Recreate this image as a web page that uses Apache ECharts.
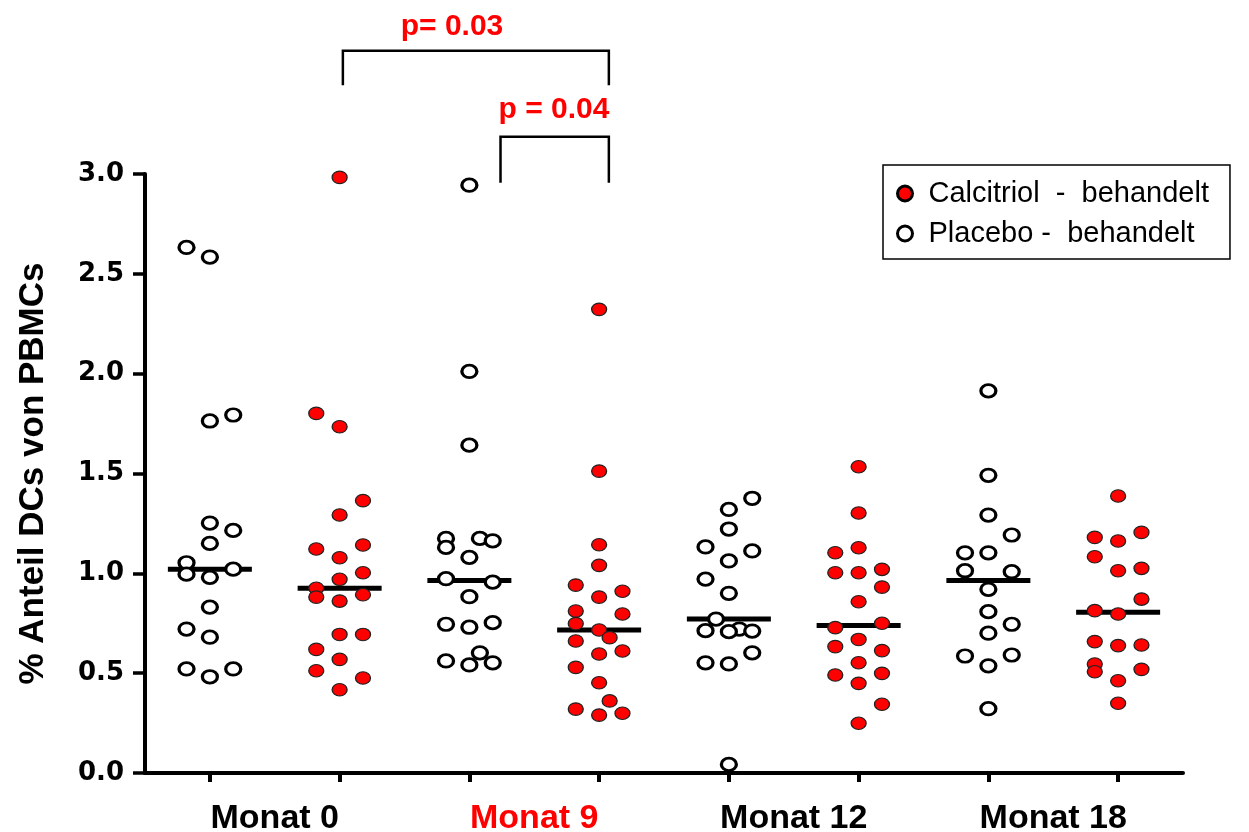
<!DOCTYPE html>
<html>
<head>
<meta charset="utf-8">
<script src="https://cdn.jsdelivr.net/npm/echarts@6/dist/echarts.min.js"></script>
<style>
  html, body { margin: 0; padding: 0; background: #fff; }
  #chart { width: 1249px; height: 832px; }
</style>
</head>
<body>
<div id="chart"></div>
<script>
// Dendritic cells as % of PBMCs, per patient, by month and treatment arm
const categories = ['Placebo M0', 'Calcitriol M0', 'Placebo M9', 'Calcitriol M9',
                    'Placebo M12', 'Calcitriol M12', 'Placebo M18', 'Calcitriol M18'];
const months = ['Monat 0', 'Monat 9', 'Monat 12', 'Monat 18'];
const yTicks = [0, 0.5, 1.0, 1.5, 2.0, 2.5, 3.0];

// values per group, and the dot column each value sits in (-1 left, 0 centre, 1 right)
const placeboM0 = [2.632, 2.584, 1.793, 1.763, 1.252, 1.215, 1.150, 1.053, 1.021, 0.996, 0.980, 0.831, 0.721, 0.680, 0.521, 0.521, 0.482];
const placeboM0Cols = [-1, 0, 1, 0, 0, 1, 0, -1, 1, -1, 0, 0, -1, 0, -1, 1, 0];
const calcitriolM0 = [2.983, 1.801, 1.734, 1.364, 1.292, 1.142, 1.122, 1.078, 1.003, 0.970, 0.925, 0.893, 0.881, 0.861, 0.694, 0.694, 0.619, 0.569, 0.512, 0.476, 0.417];
const calcitriolM0Cols = [0, -1, 0, 1, 0, 1, -1, 0, 1, 0, -1, 1, -1, 0, 0, 1, -1, 0, -1, 1, 0];
const placeboM9 = [2.944, 2.011, 1.642, 1.175, 1.175, 1.163, 1.130, 1.080, 0.973, 0.956, 0.883, 0.753, 0.745, 0.730, 0.602, 0.561, 0.552, 0.541];
const placeboM9Cols = [0, 0, 0, -1, 0.45, 1, -1, 0, -1, 1, 0, 1, -1, 0, 0.45, -1, 1, 0];
const calcitriolM9 = [2.322, 1.512, 1.143, 1.040, 0.941, 0.910, 0.881, 0.811, 0.796, 0.748, 0.716, 0.678, 0.661, 0.611, 0.596, 0.529, 0.452, 0.361, 0.320, 0.299, 0.290];
const calcitriolM9Cols = [0, 0, 0, 0, -1, 1, 0, -1, 1, -1, 0, 0.45, -1, 1, 0, -1, 0, 0.45, -1, 1, 0];
const placeboM12 = [1.376, 1.320, 1.222, 1.132, 1.112, 1.062, 0.971, 0.900, 0.771, 0.721, 0.713, 0.711, 0.708, 0.602, 0.552, 0.546, 0.043];
const placeboM12Cols = [1, 0, 0, -1, 1, 0, -1, 0, -0.55, 0.45, -1, 1, 0, 1, -1, 0, 0];
const calcitriolM12 = [1.534, 1.302, 1.128, 1.103, 1.020, 1.003, 1.003, 0.931, 0.858, 0.750, 0.728, 0.669, 0.633, 0.613, 0.552, 0.499, 0.491, 0.449, 0.344, 0.249];
const calcitriolM12Cols = [0, 0, 0, -1, 1, -1, 0, 1, 0, 1, -1, 0, -1, 1, 0, 1, -1, 0, 1, 0];
const placeboM18 = [1.914, 1.491, 1.292, 1.192, 1.103, 1.103, 1.013, 1.008, 0.920, 0.808, 0.745, 0.700, 0.591, 0.586, 0.537, 0.322];
const placeboM18Cols = [0, 0, 0, 1, -1, 0, -1, 1, 0, 0, 1, 0, 1, -1, 0, 0];
const calcitriolM18 = [1.387, 1.205, 1.180, 1.162, 1.083, 1.025, 1.013, 0.871, 0.813, 0.796, 0.658, 0.641, 0.638, 0.546, 0.519, 0.507, 0.462, 0.349];
const calcitriolM18Cols = [0, 1, -1, 0, -1, 1, 0, 1, -1, 0, -1, 1, 0, -1, 1, -1, 0, 0];

const pValueTop = 'p= 0.03';
const pValueInner = 'p = 0.04';

const groups = [
  [placeboM0, placeboM0Cols], [calcitriolM0, calcitriolM0Cols],
  [placeboM9, placeboM9Cols], [calcitriolM9, calcitriolM9Cols],
  [placeboM12, placeboM12Cols], [calcitriolM12, calcitriolM12Cols],
  [placeboM18, placeboM18Cols], [calcitriolM18, calcitriolM18Cols]
];

const COL_STEP = 0.18;           // horizontal spread of one dot column, in category units
const FONT = '"Liberation Sans", Arial, sans-serif';
const ELLIPSE = 'path://M0,1A1,1,0,1,1,2,1A1,1,0,1,1,0,1Z';

function toPoints(gi) {
  const [vals, cols] = groups[gi];
  return vals.map((v, i) => [gi + cols[i] * COL_STEP, v]);
}
function median(arr) {
  const s = arr.slice().sort((a, b) => a - b);
  const m = Math.floor(s.length / 2);
  return s.length % 2 ? s[m] : (s[m - 1] + s[m]) / 2;
}

const placeboPoints = [0, 2, 4, 6].flatMap(toPoints);
const calcitriolPoints = [1, 3, 5, 7].flatMap(toPoints);
const medianPoints = groups.map((g, gi) => [gi, median(g[0])]);

const chart = echarts.init(document.getElementById('chart'), null, { renderer: 'canvas' });

chart.setOption({
  animation: false,
  backgroundColor: '#ffffff',
  grid: { left: 145, right: 66, top: 174, bottom: 59, containLabel: false, outerBoundsMode: 'none' },
  legend: {
    orient: 'vertical',
    left: 883,
    top: 165,
    padding: [14, 21, 11, 13],
    itemGap: 11,
    itemWidth: 37,
    itemHeight: 15,
    borderColor: '#000',
    borderWidth: 1.5,
    textStyle: { fontFamily: FONT, fontSize: 29, color: '#000' },
    data: [
      { name: 'Calcitriol  -  behandelt', icon: 'circle',
        itemStyle: { color: '#ff0000', borderColor: '#000', borderWidth: 3 } },
      { name: 'Placebo -  behandelt', icon: 'circle',
        itemStyle: { color: '#ffffff', borderColor: '#000', borderWidth: 3 } }
    ]
  },
  xAxis: [
    {
      type: 'category',
      data: categories,
      boundaryGap: true,
      axisLine: { show: true, onZero: false, lineStyle: { color: '#000', width: 4 } },
      axisTick: { show: true, alignWithLabel: true, length: 9, lineStyle: { color: '#000', width: 4 } },
      axisLabel: { show: false },
      splitLine: { show: false }
    },
    {
      type: 'category',
      data: [
        months[0],
        { value: months[1], textStyle: { color: '#ff0000' } },
        months[2],
        months[3]
      ],
      position: 'bottom',
      boundaryGap: true,
      axisLine: { show: false, onZero: false },
      axisTick: { show: false },
      axisLabel: { margin: 29, fontFamily: FONT, fontWeight: 'bold', fontSize: 34, color: '#000' },
      splitLine: { show: false }
    },
    { type: 'value', min: -0.5, max: 7.5, show: false, axisLine: { onZero: false } }
  ],
  yAxis: {
    type: 'value',
    min: yTicks[0],
    max: yTicks[yTicks.length - 1],
    interval: 0.5,
    axisLine: { show: true, onZero: false, lineStyle: { color: '#000', width: 4 } },
    axisTick: { show: true, inside: false, length: 12, lineStyle: { color: '#000', width: 3.5 } },
    axisLabel: {
      margin: 21,
      fontFamily: '"DejaVu Sans", sans-serif',
      fontWeight: 'bold',
      fontSize: 26,
      color: '#000',
      formatter: v => v.toFixed(1)
    },
    splitLine: { show: false },
    name: '% Anteil DCs von PBMCs',
    nameLocation: 'middle',
    nameRotate: 90,
    nameGap: 94,
    nameTextStyle: { fontFamily: FONT, fontWeight: 'bold', fontSize: 35, color: '#000' }
  },
  series: [
    {
      name: 'Medianwert',
      type: 'scatter',
      xAxisIndex: 2,
      data: medianPoints,
      symbol: 'rect',
      symbolSize: [84, 5],
      itemStyle: { color: '#000', opacity: 1 },
      z: 1,
      silent: true
    },
    {
      name: 'Placebo -  behandelt',
      type: 'scatter',
      xAxisIndex: 2,
      data: placeboPoints,
      symbol: ELLIPSE,
      symbolSize: [15, 12.5],
      itemStyle: { color: '#ffffff', borderColor: '#000', borderWidth: 3, opacity: 1 },
      z: 3
    },
    {
      name: 'Calcitriol  -  behandelt',
      type: 'scatter',
      xAxisIndex: 2,
      data: calcitriolPoints,
      symbol: ELLIPSE,
      symbolSize: [15, 12.5],
      itemStyle: { color: '#ff0000', borderColor: '#222', borderWidth: 1.2, opacity: 1 },
      z: 4
    }
  ]
});

// significance brackets above the plot, anchored to the data scales
function px(x, y) { return chart.convertToPixel({ xAxisIndex: 2, yAxisIndex: 0 }, [x, y]); }
const outerL = px(1.025, 3.445), outerTL = px(1.025, 3.617), outerTR = px(3.075, 3.617), outerR = px(3.075, 3.445);
const innerL = px(2.24, 2.956), innerTL = px(2.24, 3.186), innerTR = px(3.075, 3.186), innerR = px(3.075, 2.956);

chart.setOption({
  graphic: [
    { type: 'polyline', shape: { points: [outerL, outerTL, outerTR, outerR] },
      style: { stroke: '#000', lineWidth: 2.5, fill: null } },
    { type: 'polyline', shape: { points: [innerL, innerTL, innerTR, innerR] },
      style: { stroke: '#000', lineWidth: 2.5, fill: null } },
    { type: 'text', x: 452, y: 27,
      style: { text: pValueTop, fill: '#ff0000', font: 'bold 30px ' + FONT, textAlign: 'center', textVerticalAlign: 'middle' } },
    { type: 'text', x: 554, y: 110,
      style: { text: pValueInner, fill: '#ff0000', font: 'bold 30px ' + FONT, textAlign: 'center', textVerticalAlign: 'middle' } }
  ]
});
</script>
</body>
</html>
